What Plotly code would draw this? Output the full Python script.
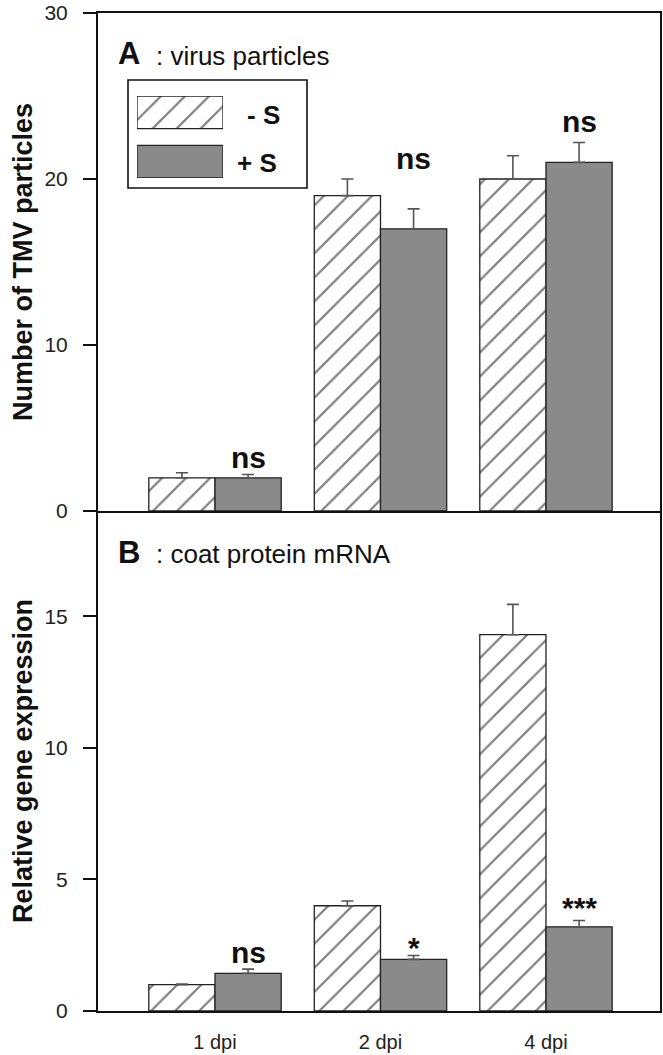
import plotly.graph_objects as go

categories = ["1 dpi", "2 dpi", "4 dpi"]
series_names = ["- S", "+ S"]

# Panel A: number of TMV particles
a_minus = [2.0, 19.0, 20.0]
a_minus_err = [0.3, 1.0, 1.4]
a_plus = [2.0, 17.0, 21.0]
a_plus_err = [0.2, 1.2, 1.2]
a_sig = ["ns", "ns", "ns"]

# Panel B: relative gene expression (coat protein mRNA)
b_minus = [1.0, 4.0, 14.3]
b_minus_err = [0.02, 0.18, 1.15]
b_plus = [1.43, 1.96, 3.2]
b_plus_err = [0.16, 0.15, 0.24]
b_sig = ["ns", "*", "***"]

# where the significance marks sit (data units of each panel)
a_sig_y = [1.97, 20.0, 22.2]
b_sig_y = [1.45, 1.65, 3.15]

FONT = "Liberation Sans, Arial, sans-serif"
HATCH_COLOR = "#000000"
GRAY = "#8a8a8a"
EDGE = "#222222"
ERR = "#555555"
INK = "#111111"

xpos = list(range(len(categories)))

fig = go.Figure()

hatch = dict(shape="/", size=17, solidity=0.13, fgcolor=HATCH_COLOR, bgcolor="white")


def add_pair(minus, minus_err, plus, plus_err, xa, ya):
    fig.add_trace(go.Bar(
        x=xpos, y=minus, name=series_names[0], xaxis=xa, yaxis=ya,
        offsetgroup="m", showlegend=False,
        marker=dict(color="white", line=dict(color=EDGE, width=1.3), pattern=hatch),
        error_y=dict(type="data", array=minus_err, arrayminus=[0] * len(minus),
                     symmetric=False, color=ERR, thickness=1.6, width=6),
    ))
    fig.add_trace(go.Bar(
        x=xpos, y=plus, name=series_names[1], xaxis=xa, yaxis=ya,
        offsetgroup="p", showlegend=False,
        marker=dict(color=GRAY, line=dict(color=EDGE, width=1.3)),
        error_y=dict(type="data", array=plus_err, arrayminus=[0] * len(plus),
                     symmetric=False, color=ERR, thickness=1.6, width=6),
    ))


add_pair(a_minus, a_minus_err, a_plus, a_plus_err, "x2", "y")
add_pair(b_minus, b_minus_err, b_plus, b_plus_err, "x", "y2")

# Legend swatches drawn as bars in a small inset axis
fig.add_trace(go.Bar(
    y=[2.02], x=[1], orientation="h", width=1, xaxis="x3", yaxis="y3",
    showlegend=False, hoverinfo="skip",
    marker=dict(color="white", line=dict(color=EDGE, width=1.3), pattern=hatch),
))
fig.add_trace(go.Bar(
    y=[0.5], x=[1], orientation="h", width=1, xaxis="x3", yaxis="y3",
    showlegend=False, hoverinfo="skip",
    marker=dict(color=GRAY, line=dict(color=EDGE, width=1.3)),
))

W, H = 663, 1055
ml, mr, mt, mb = 98, 3, 13, 44
pw, ph = W - ml - mr, H - mt - mb


def px(x):
    return (x - ml) / pw


def py(y):
    return (H - mb - y) / ph


split = py(511)

yline = dict(showline=True, linecolor=INK, linewidth=2, mirror=True,
             showgrid=False, zeroline=False, automargin=False)
yfont = dict(family=FONT, size=21, color="#222")

fig.update_layout(
    width=W, height=H,
    margin=dict(l=ml, r=mr, t=mt, b=mb, pad=0),
    paper_bgcolor="white", plot_bgcolor="white",
    barmode="group", bargap=0.2, bargroupgap=0,
    xaxis=dict(domain=[0, 1], anchor="y2", range=[-0.707, 2.689],
               tickvals=xpos, ticktext=categories, ticks="",
               tickfont=dict(family=FONT, size=20, color="#222"),
               ticklabelstandoff=12, showline=True, linecolor=INK, linewidth=2,
               mirror=False, showgrid=False, zeroline=False, automargin=False),
    xaxis2=dict(domain=[0, 1], anchor="y", matches="x", showticklabels=False,
                ticks="", showline=True, linecolor=INK, linewidth=2, mirror=True,
                showgrid=False, zeroline=False),
    yaxis=dict(domain=[split, 1], anchor="x2", range=[0, 30],
               tickvals=[0, 10, 20, 30], ticks="outside", ticklen=13,
               tickwidth=2, tickcolor=INK, tickfont=yfont,
               ticklabelstandoff=11,
               title=dict(text="<b>Number of TMV particles</b>",
                          font=dict(family=FONT, size=27, color=INK),
                          standoff=4),
               **yline),
    yaxis2=dict(domain=[0, split], anchor="x", range=[0, 19],
                tickvals=[0, 5, 10, 15], ticks="outside", ticklen=13,
                tickwidth=2, tickcolor=INK, tickfont=yfont,
                ticklabelstandoff=11,
                title=dict(text="<b>Relative gene expression</b>",
                           font=dict(family=FONT, size=27, color=INK),
                           standoff=4),
                **yline),
    xaxis3=dict(domain=[px(137), px(223)], anchor="y3", range=[0, 1],
                visible=False, fixedrange=True),
    yaxis3=dict(domain=[py(178), py(96)], anchor="x3", range=[0, 2.52],
                visible=False, fixedrange=True),
)

# legend frame
fig.add_shape(type="rect", xref="paper", yref="paper",
              x0=px(128), x1=px(307), y0=py(188), y1=py(80),
              line=dict(color=INK, width=1.6), fillcolor="white", layer="below")

annotations = []


def note(text, x, y, size, xanchor="left"):
    annotations.append(dict(text=text, xref="paper", yref="paper", x=px(x), y=py(y),
                            xanchor=xanchor, yanchor="middle", showarrow=False,
                            font=dict(family=FONT, size=size, color=INK)))


note("<b>- S</b>", 245, 115, 26)
note("<b>+ S</b>", 235, 163, 26)
note("<b>A</b>", 116, 54, 31)
note(": virus particles", 154, 56, 26)
note("<b>B</b>", 116, 552, 31)
note(": coat protein mRNA", 154, 554, 26)

for i, s in enumerate(a_sig):
    annotations.append(dict(text=f"<b>{s}</b>", xref="x2", yref="y",
                            x=xpos[i] + 0.2, y=a_sig_y[i], yanchor="bottom", yshift=2,
                            showarrow=False, font=dict(family=FONT, size=30, color=INK)))
for i, s in enumerate(b_sig):
    annotations.append(dict(text=f"<b>{s}</b>", xref="x", yref="y2",
                            x=xpos[i] + 0.2, y=b_sig_y[i], yanchor="bottom", yshift=2,
                            showarrow=False, font=dict(family=FONT, size=30, color=INK)))

fig.update_layout(annotations=annotations)
fig.write_html("out.html", config={"displayModeBar": False},
               post_script="document.body.style.margin='0px';")
